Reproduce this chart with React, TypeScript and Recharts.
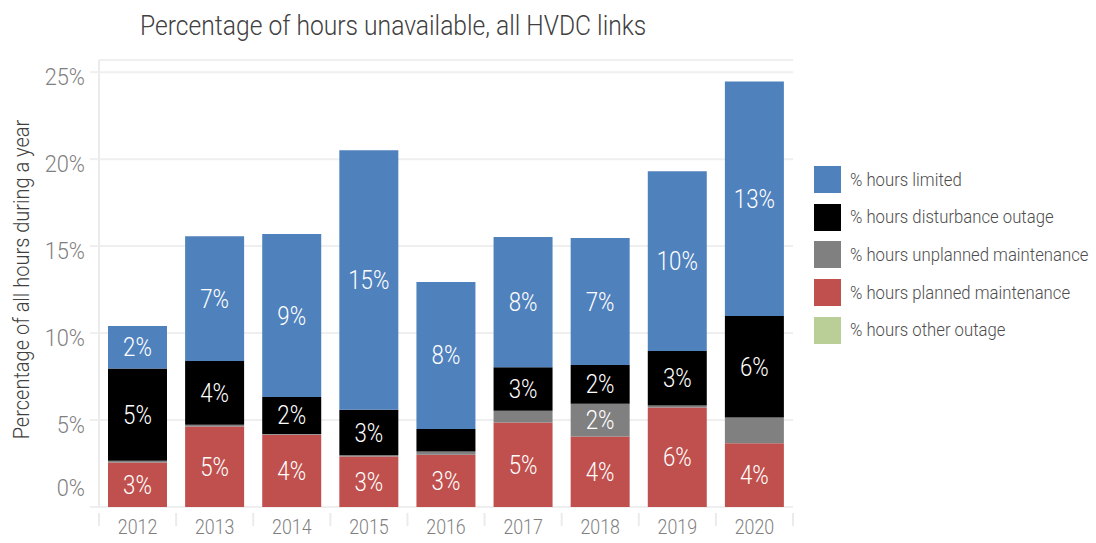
import { BarChart, Bar, XAxis, YAxis, CartesianGrid, LabelList } from 'recharts';

const years = ['2012', '2013', '2014', '2015', '2016', '2017', '2018', '2019', '2020'];
const plannedMaintenance = [2.56, 4.63, 4.15, 2.9, 3.0, 4.86, 4.05, 5.72, 3.67];
const unplannedMaintenance = [0.1, 0.1, 0.05, 0.07, 0.19, 0.67, 1.88, 0.11, 1.47];
const disturbanceOutage = [5.3, 3.67, 2.13, 2.62, 1.3, 2.5, 2.24, 3.14, 5.84];
const hoursLimited = [2.45, 7.17, 9.36, 14.92, 8.45, 7.5, 7.29, 10.34, 13.48];
const otherOutage = [0, 0, 0, 0, 0, 0, 0, 0, 0];
const yTicks = [0, 5, 10, 15, 20, 25];

// stack order, bottom first
const series = [
  { key: 'other', name: '% hours other outage', color: '#BACF98', values: otherOutage },
  { key: 'planned', name: '% hours planned maintenance', color: '#C0504D', values: plannedMaintenance },
  { key: 'unplanned', name: '% hours unplanned maintenance', color: '#808080', values: unplannedMaintenance },
  { key: 'disturbance', name: '% hours disturbance outage', color: '#000000', values: disturbanceOutage },
  { key: 'limited', name: '% hours limited', color: '#4F81BD', values: hoursLimited },
];

const data = years.map((year, i) => {
  const row: Record<string, any> = { year };
  series.forEach((s) => { row[s.key] = s.values[i]; });
  return row;
});

// Roboto Light squeezed horizontally to look like the condensed face of the original
const FONT = "Roboto, 'Open Sans', sans-serif";
const SQUEEZE = 0.89;

const Narrow = ({ x, y, children, ...rest }: any) => (
  <g transform={`translate(${x},${y}) scale(${SQUEEZE},1)`}>
    <text x={0} y={0} fontFamily={FONT} fontWeight={300} {...rest}>{children}</text>
  </g>
);

const SegmentLabel = (props: any) => {
  const { x, y, width, height } = props;
  let v = props.value;
  if (Array.isArray(v)) v = v[1] - v[0];
  if (v == null || v < 1.5) return null;
  return (
    <Narrow x={x + width / 2} y={y + height / 2} dy={9} textAnchor="middle" fill="#ffffff" fontSize={25}>
      {Math.round(v)}%
    </Narrow>
  );
};

const YTick = (props: any) => {
  const { x, y, payload } = props;
  const dy = payload.value === 0 ? -11 : 12.5;
  return (
    <Narrow x={x} y={y} dy={dy} textAnchor="end" fill="#7f7f7f" fontSize={24.5}>
      {payload.value}%
    </Narrow>
  );
};

const XTick = (props: any) => {
  const { x, y, payload, index, visibleTicksCount } = props;
  const half = payload.offset || 38.5;
  return (
    <g>
      <line x1={x - half} x2={x - half} y1={y} y2={y + 13} stroke="#ebebeb" strokeWidth={2} />
      {index === visibleTicksCount - 1 && (
        <line x1={x + half} x2={x + half} y1={y} y2={y + 13} stroke="#ebebeb" strokeWidth={2} />
      )}
      <Narrow x={x} y={y} dy={21.5} textAnchor="middle" fill="#7f7f7f" fontSize={20}>
        {payload.value}
      </Narrow>
    </g>
  );
};

const YLabel = (props: any) => {
  const vb = props.viewBox || { x: 0, y: 60, width: 99, height: 447 };
  const cx = vb.x + 21;
  const cy = vb.y + vb.height / 2 - 4;
  return (
    <g transform={`translate(${cx},${cy}) rotate(-90) scale(${SQUEEZE},1)`}>
      <text x={0} y={0} textAnchor="middle" dominantBaseline="central" fill="#404040"
        fontSize={22.5} fontWeight={300} fontFamily={FONT}>
        Percentage of all hours during a year
      </text>
    </g>
  );
};

export default function App() {
  const legendItems = [...series].reverse();
  return (
    <div style={{ position: 'absolute', left: 0, top: 0, width: 1096, height: 543, background: '#fff', fontFamily: FONT, fontWeight: 300 }}>
      <div style={{ position: 'absolute', left: 140, top: 9, fontSize: 27.7, lineHeight: 'normal', color: '#404040',
        whiteSpace: 'nowrap', transform: `scaleX(${SQUEEZE})`, transformOrigin: 'left center' }}>
        Percentage of hours unavailable, all HVDC links
      </div>
      <BarChart width={1096} height={543} data={data} margin={{ top: 60, right: 303, bottom: 0, left: 0 }}
        barSize={59} style={{ position: 'absolute', left: 0, top: 0 }}>
        <CartesianGrid vertical={false} stroke="#efefef" strokeWidth={2} />
        <XAxis dataKey="year" height={36} axisLine={false} tickLine={false} tickMargin={0}
          tick={<XTick />} interval={0} />
        <YAxis width={99} domain={[0, 25.7]} ticks={yTicks} interval={0}
          axisLine={{ stroke: '#ebebeb', strokeWidth: 2 }} tickLine={{ stroke: '#efefef', strokeWidth: 2 }}
          tickSize={9} tickMargin={5} tick={<YTick />}
          label={{ value: 'Percentage of all hours during a year', position: 'insideLeft', content: <YLabel /> }} />
        {series.map((s) => (
          <Bar key={s.key} dataKey={s.key} name={s.name} stackId="a" fill={s.color} isAnimationActive={false}>
            <LabelList dataKey={s.key} content={<SegmentLabel />} />
          </Bar>
        ))}
      </BarChart>
      <div style={{ position: 'absolute', left: 814, top: 166 }}>
        {legendItems.map((s) => (
          <div key={s.key} style={{ display: 'flex', alignItems: 'center', height: 27, marginBottom: 10.7 }}>
            <span style={{ width: 27, height: 27, background: s.color, display: 'inline-block', flex: 'none' }} />
            <span style={{ marginLeft: 9, fontSize: 18.8, color: '#4d4d4d', whiteSpace: 'nowrap',
              transform: `scaleX(${SQUEEZE})`, transformOrigin: 'left center', display: 'inline-block' }}>{s.name}</span>
          </div>
        ))}
      </div>
    </div>
  );
}
